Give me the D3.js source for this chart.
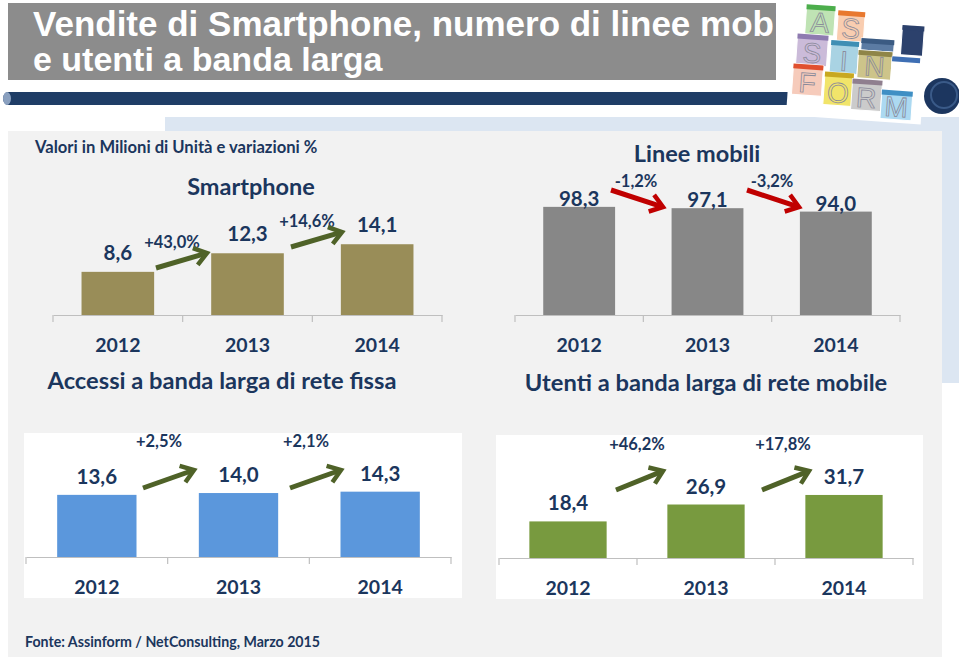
<!DOCTYPE html>
<html>
<head>
<meta charset="utf-8">
<script src="https://cdn.jsdelivr.net/npm/d3@7/dist/d3.min.js"></script>
<style>
  html, body { margin: 0; padding: 0; background: #ffffff; }
  svg { display: block; }
  .cal { font-family: Lato, "Noto Sans", sans-serif; }
</style>
</head>
<body>
<svg id="chart" width="959" height="657"></svg>
<script>
// ---------------- DATA ----------------
const years = ["2012", "2013", "2014"];

const smartphoneValues = [8.6, 12.3, 14.1];
const smartphoneChanges = ["+43,0%", "+14,6%"];

const lineeValues = [98.3, 97.1, 94.0];
const lineeChanges = ["-1,2%", "-3,2%"];

const fissaValues = [13.6, 14.0, 14.3];
const fissaChanges = ["+2,5%", "+2,1%"];

const mobileValues = [18.4, 26.9, 31.7];
const mobileChanges = ["+46,2%", "+17,8%"];

const titleLines = ["Vendite di Smartphone, numero di linee mobili", "e utenti a banda larga"];
const unitNote = "Valori in Milioni di Unità e variazioni %";
const sourceNote = "Fonte: Assinform / NetConsulting, Marzo  2015";

// ---------------- LAYOUT / STYLE ----------------
const NAVY = "#1b365d";
const svg = d3.select("#chart");
const fmt = v => d3.format(".1f")(v).replace(".", ",");

// backgrounds
svg.append("rect").attr("x", 165).attr("y", 117).attr("width", 794).attr("height", 266).attr("fill", "#dce6f2");
svg.append("rect").attr("x", 8).attr("y", 131).attr("width", 934).attr("height", 526).attr("fill", "#f2f2f2");
svg.append("rect").attr("x", 24).attr("y", 433).attr("width", 438).attr("height", 165).attr("fill", "#ffffff");
svg.append("rect").attr("x", 496).attr("y", 435).attr("width", 427).attr("height", 164).attr("fill", "#ffffff");

// header box + title
svg.append("defs").append("clipPath").attr("id", "titleClip")
  .append("rect").attr("x", 8).attr("y", 3).attr("width", 768).attr("height", 77);
svg.append("rect").attr("x", 8).attr("y", 3).attr("width", 768).attr("height", 77).attr("fill", "#8c8c8c");
const tg = svg.append("g").attr("clip-path", "url(#titleClip)");
tg.selectAll("text").data(titleLines).join("text")
  .attr("x", 33).attr("y", (d, i) => 36 + i * 35)
  .attr("fill", "#ffffff")
  .attr("font-family", "'Liberation Sans', Arial, sans-serif")
  .attr("font-weight", "bold").attr("font-size", (d, i) => i === 0 ? 35 : 34)
  .text(d => d);

// dark blue band
svg.append("path")
  .attr("d", "M8,92 L792,92 L808,105 L8,105 A5,6.5 0 0 1 8,92 Z")
  .attr("fill", "#1f3d66");
svg.append("ellipse").attr("cx", 7).attr("cy", 98.5).attr("rx", 4).attr("ry", 6.5).attr("fill", "#8aa0bf");

// logo collage (decoration)
const logo = svg.append("g").attr("transform", "rotate(4, 860, 60)");
logo.append("rect").attr("x", 790).attr("y", 4).attr("width", 135).attr("height", 116).attr("fill", "#ffffff");
const tiles = [
  {x: 803, y: 8, w: 29, h: 30, c: "#bfe3b4", h2: "#4cae4c", L: "A"},
  {x: 835, y: 12, w: 27, h: 30, c: "#f9cdb0", h2: "#e8782f", L: "S"},
  {x: 796, y: 38, w: 31, h: 31, c: "#cbbbd9", h2: "#8e7bb0", L: "S"},
  {x: 830, y: 42, w: 28, h: 33, c: "#a9d3e3", h2: "#3f8fb4", L: "I"},
  {x: 860, y: 38, w: 33, h: 12, c: "#5b7ba3", h2: "#3b5b83", L: ""},
  {x: 858, y: 50, w: 34, h: 28, c: "#cdc48a", h2: "#8f8548", L: "N"},
  {x: 900, y: 22, w: 22, h: 30, c: "#2c416c", h2: "#2c416c", L: ""},
  {x: 892, y: 54, w: 28, h: 36, c: "#ffffff", h2: "#3f6fb4", L: ""},
  {x: 794, y: 68, w: 30, h: 31, c: "#f6cbbb", h2: "#e0502f", L: "F"},
  {x: 826, y: 74, w: 29, h: 33, c: "#f1e46a", h2: "#c8a820", L: "O"},
  {x: 854, y: 79, w: 30, h: 31, c: "#cbcbcb", h2: "#8f7f8f", L: "R"},
  {x: 884, y: 88, w: 31, h: 29, c: "#acd9f1", h2: "#3f8fc4", L: "M"}
];
const tileG = logo.selectAll("g.tile").data(tiles).join("g").attr("class", "tile");
tileG.append("rect").attr("x", d => d.x).attr("y", d => d.y).attr("width", d => d.w).attr("height", d => d.h)
  .attr("fill", d => d.c).attr("stroke", "#ffffff").attr("stroke-width", 1);
tileG.append("rect").attr("x", d => d.x).attr("y", d => d.y).attr("width", d => d.w).attr("height", 5).attr("fill", d => d.h2);
tileG.append("text").attr("x", d => d.x + d.w / 2).attr("y", d => d.y + d.h - 3)
  .attr("text-anchor", "middle").attr("font-family", "'Liberation Sans', Arial, sans-serif")
  .attr("font-size", 28).attr("fill", "none").attr("stroke", "#8a8a9a").attr("stroke-width", 0.8)
  .text(d => d.L);
svg.append("circle").attr("cx", 942).attr("cy", 96).attr("r", 18).attr("fill", "#1c365f");
svg.append("circle").attr("cx", 944).attr("cy", 95).attr("r", 13).attr("fill", "none").attr("stroke", "#3a5a88").attr("stroke-width", 2);

// notes
svg.append("text").attr("class", "cal").attr("x", 35).attr("y", 153)
  .attr("font-size", 16.6).attr("font-weight", "bold").attr("fill", NAVY).text(unitNote);
svg.append("text").attr("class", "cal").attr("x", 25).attr("y", 647)
  .attr("font-size", 14.2).attr("font-weight", "bold").attr("fill", NAVY).text(sourceNote);

// chart titles
const chartTitles = [
  {t: "Smartphone", x: 251, y: 195, s: 23.5},
  {t: "Linee mobili", x: 697, y: 162, s: 23.5},
  {t: "Accessi a banda larga di rete fissa", x: 222, y: 389, s: 23.7},
  {t: "Utenti a banda larga di rete mobile", x: 706, y: 391, s: 23.7}
];
svg.selectAll("text.ctitle").data(chartTitles).join("text").attr("class", "ctitle cal")
  .attr("x", d => d.x).attr("y", d => d.y).attr("text-anchor", "middle")
  .attr("font-size", d => d.s).attr("font-weight", "bold").attr("fill", NAVY).text(d => d.t);

// ---------------- CHARTS ----------------
const charts = [
  {values: smartphoneValues, changes: smartphoneChanges, color: "#998d58", arrowColor: "#4f6228",
   x0: 53, x1: 442, axisY: 315, yMax: 16, yPx: 80.3, labelGap: 12,
   pct: [[172, 248], [307, 227]], arrowX: [-16, 35], arrowY: [20, 5]},
  {values: lineeValues, changes: lineeChanges, color: "#878787", arrowColor: "#c00000",
   x0: 515, x1: 900, axisY: 315, yMax: 100, yPx: 110, labelGap: 1,
   pct: [[636, 187], [772, 187]], arrowX: [-25, 27], arrowY: [3, 20]},
  {values: fissaValues, changes: fissaChanges, color: "#5b97dc", arrowColor: "#4f6228",
   x0: 26, x1: 451, axisY: 557, yMax: 16, yPx: 73.1, labelGap: 11,
   pct: [[159, 447], [306, 447]], arrowX: [-16, 35], arrowY: [41, 23]},
  {values: mobileValues, changes: mobileChanges, color: "#789a3f", arrowColor: "#4f6228",
   x0: 499, x1: 913, axisY: 558, yMax: 35, yPx: 69.6, labelGap: 11,
   pct: [[637, 450], [783, 450]], arrowX: [-21, 26], arrowY: [40, 21]}
];

function drawArrow(g, x1, y1, x2, y2, color) {
  const ang = Math.atan2(y2 - y1, x2 - x1);
  const head = 15, spread = 0.62;
  const ax = x2 - head * Math.cos(ang - spread), ay = y2 - head * Math.sin(ang - spread);
  const bx = x2 - head * Math.cos(ang + spread), by = y2 - head * Math.sin(ang + spread);
  const sx = x2 - 3 * Math.cos(ang), sy = y2 - 3 * Math.sin(ang);
  g.append("path")
    .attr("d", `M${x1},${y1} L${sx},${sy}`)
    .attr("stroke", color).attr("stroke-width", 5).attr("fill", "none");
  g.append("path")
    .attr("d", `M${ax},${ay} L${x2},${y2} L${bx},${by}`)
    .attr("stroke", color).attr("stroke-width", 4.5).attr("fill", "none")
    .attr("stroke-linejoin", "miter").attr("stroke-miterlimit", 10);
}

charts.forEach(c => {
  const g = svg.append("g");
  const x = d3.scaleBand().domain(years).range([c.x0, c.x1]).paddingInner(0.44).paddingOuter(0.22);
  const y = d3.scaleLinear().domain([0, c.yMax]).range([c.axisY, c.axisY - c.yPx]);
  const rows = years.map((yr, i) => ({yr, v: c.values[i]}));

  g.selectAll("rect.bar").data(rows).join("rect").attr("class", "bar")
    .attr("x", d => x(d.yr)).attr("width", x.bandwidth())
    .attr("y", d => y(d.v)).attr("height", d => y(0) - y(d.v))
    .attr("fill", c.color);

  // axis with labels
  const axis = g.append("g").attr("transform", `translate(0,${c.axisY})`)
    .call(d3.axisBottom(x).tickSize(0).tickSizeOuter(0));
  axis.select(".domain").attr("stroke", "#bfbfbf").attr("stroke-width", 1.2);
  axis.selectAll(".tick text").attr("class", "cal").attr("y", 37).attr("dy", 0)
    .attr("font-size", 19.5).attr("font-weight", "bold").attr("fill", NAVY);
  // boundary ticks
  const bounds = years.map(yr => x(yr) - x.step() * x.paddingInner() / 2).concat([c.x1]);
  bounds[0] = c.x0;
  axis.selectAll("line.bt").data(bounds).join("line").attr("class", "bt")
    .attr("x1", d => d).attr("x2", d => d).attr("y1", 0).attr("y2", 7)
    .attr("stroke", "#bfbfbf").attr("stroke-width", 1.2);

  // value labels
  g.selectAll("text.val").data(rows).join("text").attr("class", "val cal")
    .attr("x", d => x(d.yr) + x.bandwidth() / 2).attr("y", d => y(d.v) - c.labelGap)
    .attr("text-anchor", "middle").attr("font-size", 20.5).attr("font-weight", "bold")
    .attr("fill", NAVY).text(d => fmt(d.v));

  // change labels and arrows
  c.changes.forEach((t, i) => {
    const [px, py] = c.pct[i];
    g.append("text").attr("class", "cal").attr("x", px).attr("y", py).attr("text-anchor", "middle")
      .attr("font-size", 16.5).attr("font-weight", "bold").attr("fill", NAVY).text(t);
    drawArrow(g, px + c.arrowX[0], py + c.arrowY[0], px + c.arrowX[1], py + c.arrowY[1], c.arrowColor);
  });
});
</script>
</body>
</html>
